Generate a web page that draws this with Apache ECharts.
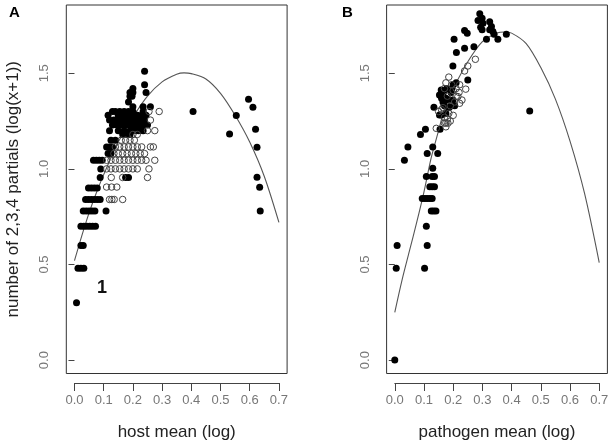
<!DOCTYPE html>
<html>
<head>
<meta charset="utf-8">
<script src="https://cdn.jsdelivr.net/npm/echarts@6/dist/echarts.min.js"></script>
<style>html,body{margin:0;padding:0;background:#fff}#c{width:613px;height:445px}</style>
</head>
<body>
<div id="c"></div>
<script>
var xTicks = [0, 0.1, 0.2, 0.3, 0.4, 0.5, 0.6, 0.7];
var yTicks = [0, 0.5, 1, 1.5];

var aFilled = [
[0.007,0.30],
[0.012,0.48],[0.022,0.48],[0.032,0.48],
[0.022,0.60],[0.030,0.60],
[0.022,0.70],[0.032,0.70],[0.042,0.70],[0.052,0.70],[0.062,0.70],[0.072,0.70],
[0.030,0.78],[0.040,0.78],[0.050,0.78],[0.060,0.78],[0.070,0.78],[0.108,0.78],
[0.038,0.84],[0.048,0.84],[0.058,0.84],[0.068,0.84],[0.078,0.84],[0.088,0.84],
[0.048,0.90],[0.058,0.90],[0.068,0.90],[0.078,0.90],
[0.088,0.955],[0.175,0.955],[0.185,0.955],
[0.090,1.00],
[0.065,1.045],[0.075,1.045],[0.085,1.045],[0.095,1.045],
[0.115,1.08],[0.125,1.08],
[0.11,1.115],[0.12,1.115],[0.13,1.115],
[0.125,1.15],[0.14,1.15],
[0.165,1.18],[0.18,1.18],[0.19,1.18],
[0.12,1.20],[0.15,1.20],[0.17,1.20],[0.19,1.20],[0.2,1.20],[0.21,1.20],[0.22,1.20],[0.235,1.20],
[0.13,1.23],[0.145,1.23],[0.16,1.23],[0.175,1.23],[0.19,1.23],[0.205,1.23],[0.22,1.23],[0.235,1.23],[0.25,1.23],
[0.12,1.255],[0.135,1.255],[0.15,1.255],[0.165,1.255],[0.18,1.255],[0.195,1.255],[0.21,1.255],[0.225,1.255],[0.24,1.255],
[0.115,1.28],[0.15,1.28],[0.165,1.28],[0.18,1.28],[0.2,1.28],[0.215,1.28],[0.23,1.28],[0.245,1.28],
[0.13,1.30],[0.14,1.30],[0.155,1.30],[0.17,1.30],[0.185,1.30],[0.2,1.30],[0.235,1.30],
[0.2,1.325],[0.235,1.325],[0.26,1.325],
[0.185,1.35],
[0.19,1.38],[0.197,1.38],
[0.19,1.40],[0.2,1.40],[0.245,1.40],
[0.2,1.42],
[0.24,1.44],
[0.24,1.51],
[0.406,1.30],[0.531,1.183],[0.554,1.279],[0.596,1.364],[0.611,1.322],
[0.62,1.207],[0.625,1.113],[0.625,0.956],[0.634,0.904],[0.636,0.78]
];

var aOpen = [
[0.12,0.84],[0.128,0.84],[0.136,0.84],[0.165,0.84],
[0.11,0.905],[0.127,0.905],[0.145,0.905],
[0.126,0.955],[0.165,0.955],[0.25,0.955],
[0.11,1.0],[0.125,1.0],[0.14,1.0],[0.155,1.0],[0.17,1.0],[0.185,1.0],[0.2,1.0],[0.215,1.0],[0.255,1.0],
[0.11,1.045],[0.125,1.045],[0.14,1.045],[0.155,1.045],[0.17,1.045],[0.185,1.045],[0.2,1.045],[0.215,1.045],[0.23,1.045],[0.245,1.045],[0.275,1.045],
[0.135,1.08],[0.15,1.08],[0.165,1.08],[0.18,1.08],[0.195,1.08],[0.21,1.08],[0.225,1.08],[0.24,1.08],
[0.14,1.115],[0.155,1.115],[0.17,1.115],[0.185,1.115],[0.2,1.115],[0.215,1.115],[0.23,1.115],[0.26,1.115],[0.27,1.115],
[0.16,1.15],[0.175,1.15],[0.19,1.15],[0.205,1.15],
[0.2,1.18],[0.215,1.18],
[0.25,1.20],[0.275,1.20],
[0.26,1.255],
[0.255,1.30],[0.29,1.30]
];

var aCurve = [
[0,0.52],[0.025,0.65],[0.05,0.77],[0.075,0.875],[0.1,0.97],[0.15,1.14],[0.2,1.27],[0.25,1.38],
[0.3,1.455],[0.35,1.495],[0.375,1.502],[0.4,1.498],[0.45,1.47],[0.5,1.395],[0.55,1.28],[0.6,1.14],[0.65,0.96],[0.7,0.72]
];

var bFilled = [
[0,0],[0.005,0.48],[0.008,0.60],[0.033,1.045],[0.045,1.115],[0.088,1.18],[0.105,1.207],
[0.102,0.48],[0.111,0.60],[0.108,0.70],
[0.125,0.78],[0.133,0.78],[0.141,0.78],
[0.094,0.845],[0.103,0.845],[0.111,0.845],[0.12,0.845],[0.128,0.845],
[0.12,0.907],[0.128,0.907],[0.136,0.907],
[0.108,0.96],[0.128,0.96],[0.136,0.96],
[0.13,1.003],
[0.111,1.08],[0.147,1.08],[0.13,1.115],
[0.155,1.207],
[0.134,1.322],[0.153,1.282],
[0.159,1.413],[0.153,1.387],[0.178,1.42],[0.193,1.40],[0.17,1.36],[0.199,1.36],[0.159,1.282],[0.188,1.325],
[0.165,1.385],[0.17,1.41],[0.175,1.37],[0.16,1.37],[0.185,1.36],[0.165,1.35],[0.17,1.33],
[0.195,1.42],[0.2,1.44],[0.185,1.32],[0.175,1.29],[0.205,1.33],[0.21,1.45],
[0.291,1.811],[0.299,1.788],[0.285,1.776],[0.302,1.762],[0.294,1.741],[0.299,1.727],
[0.325,1.770],[0.331,1.744],[0.325,1.727],[0.336,1.718],[0.34,1.704],[0.314,1.678],
[0.353,1.678],[0.382,1.704],[0.239,1.723],[0.248,1.709],[0.203,1.678],[0.239,1.631],
[0.271,1.639],[0.211,1.608],[0.199,1.538],[0.25,1.465],
[0.462,1.303]
];

var bOpen = [
[0.15,1.30],[0.16,1.31],[0.17,1.27],[0.175,1.24],[0.18,1.26],[0.185,1.29],[0.19,1.25],[0.2,1.28],
[0.205,1.35],[0.21,1.38],[0.216,1.378],[0.222,1.343],[0.22,1.40],[0.222,1.44],[0.23,1.36],[0.243,1.417],
[0.175,1.45],[0.185,1.48],[0.195,1.44],[0.2,1.41],[0.18,1.38],[0.17,1.42],[0.21,1.42],[0.19,1.33],
[0.165,1.32],[0.175,1.22],[0.142,1.212],[0.17,1.239],[0.182,1.239],
[0.276,1.573],[0.25,1.538],[0.239,1.512]
];

var bCurve = [
[0,0.25],[0.025,0.42],[0.05,0.57],[0.075,0.72],[0.1,0.88],[0.125,1.06],[0.15,1.20],[0.175,1.34],
[0.2,1.42],[0.25,1.56],[0.3,1.665],[0.35,1.71],[0.375,1.716],[0.4,1.71],[0.45,1.655],[0.5,1.53],[0.55,1.365],
[0.6,1.145],[0.65,0.87],[0.7,0.51]
];

var FONT = '"Liberation Sans", Arial, sans-serif';
var GRID_TOP = 5, GRID_H = 368.5, GRID_W = 220.8;
var chart = echarts.init(document.getElementById('c'));

function mainX(i) {
  return { gridIndex: i, type: 'value', min: -0.028, max: 0.728, show: false };
}
function mainY(i, name) {
  return {
    gridIndex: i, type: 'value', min: -0.07, max: 1.857,
    axisLine: { show: false },
    splitLine: { show: false },
    axisTick: { show: true, length: 6, customValues: yTicks, lineStyle: { color: '#444' } },
    axisLabel: { customValues: yTicks, rotate: 90, margin: 15, color: '#777', fontSize: 13, fontFamily: FONT,
      formatter: function (v) { return v.toFixed(1); } },
    name: name, nameLocation: 'middle', nameGap: 44,
    nameTextStyle: { fontSize: 17, color: '#222', fontFamily: FONT }
  };
}
function subX(i, name) {
  return {
    gridIndex: i, type: 'value', min: 0, max: 0.7, interval: 0.1,
    axisLine: { show: true, lineStyle: { color: '#444' } },
    splitLine: { show: false },
    axisTick: { show: true, length: 8, lineStyle: { color: '#444' } },
    axisLabel: { margin: 11, color: '#777', fontSize: 13, fontFamily: FONT,
      formatter: function (v) { return v.toFixed(1); } },
    name: name, nameLocation: 'middle', nameGap: 41,
    nameTextStyle: { fontSize: 17, color: '#222', fontFamily: FONT }
  };
}
function subY(i) { return { gridIndex: i, type: 'value', min: 0, max: 1, show: false }; }

function filled(data, ax) {
  return { type: 'scatter', xAxisIndex: ax, yAxisIndex: ax, data: data, symbolSize: 7,
    itemStyle: { color: '#000', opacity: 1 }, z: 3, silent: true };
}
function open(data, ax) {
  return { type: 'scatter', xAxisIndex: ax, yAxisIndex: ax, data: data, symbolSize: 6.5,
    itemStyle: { color: 'rgba(255,255,255,0)', borderColor: '#444', borderWidth: 1, opacity: 1 }, z: 4, silent: true };
}
function curve(data, ax) {
  return { type: 'line', xAxisIndex: ax, yAxisIndex: ax, data: data, smooth: 0.3, showSymbol: false,
    lineStyle: { color: '#555', width: 1.1 }, z: 2, silent: true };
}

chart.setOption({
  animation: false,
  backgroundColor: '#fff',
  grid: [
    { left: 66.3, top: GRID_TOP, width: GRID_W, height: GRID_H, show: true, borderColor: '#333', borderWidth: 1, backgroundColor: 'transparent' },
    { left: 386.6, top: GRID_TOP, width: GRID_W, height: GRID_H, show: true, borderColor: '#333', borderWidth: 1, backgroundColor: 'transparent' },
    { left: 74.5, top: 382, width: 204.4, height: 1 },
    { left: 394.8, top: 382, width: 204.4, height: 1 }
  ],
  xAxis: [mainX(0), mainX(1), subX(2, 'host mean (log)'), subX(3, 'pathogen mean (log)')],
  yAxis: [mainY(0, 'number of 2,3,4 partials (log(x+1))'), mainY(1, ''), subY(2), subY(3)],
  series: [
    curve(aCurve, 0), filled(aFilled, 0), open(aOpen, 0),
    curve(bCurve, 1), filled(bFilled, 1), open(bOpen, 1)
  ],
  graphic: [
    { type: 'text', left: 9, top: 5, style: { text: 'A', font: 'bold 15px ' + FONT, fill: '#000' } },
    { type: 'text', left: 342, top: 5, style: { text: 'B', font: 'bold 15px ' + FONT, fill: '#000' } },
    { type: 'text', left: 97, top: 279, style: { text: '1', font: 'bold 18px ' + FONT, fill: '#111' } }
  ]
});
</script>
</body>
</html>
